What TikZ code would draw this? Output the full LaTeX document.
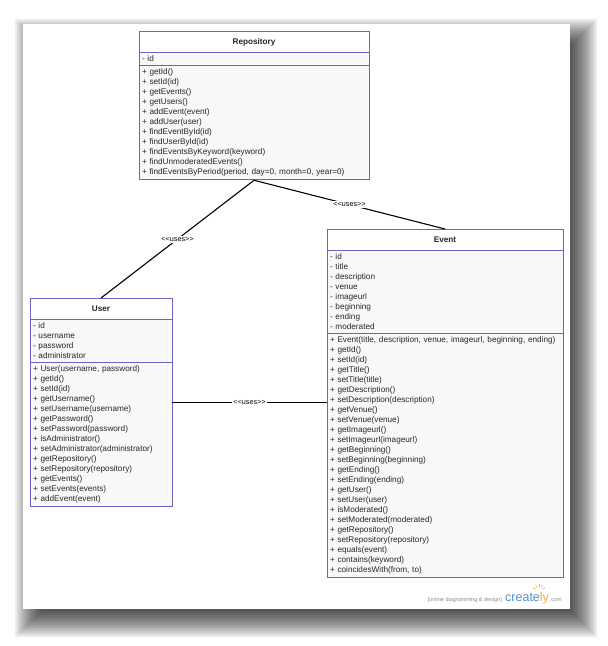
\documentclass[tikz,border=0pt]{standalone}
\usepackage{fontspec}
\setmainfont{Liberation Sans}
\usetikzlibrary{positioning, shapes.multipart}
\definecolor{umlborder}{RGB}{106,100,196}
\definecolor{umlbody}{RGB}{248,248,248}
\definecolor{logoblue}{RGB}{74,144,210}
\definecolor{logoorange}{RGB}{246,172,56}
\tikzset{%
	umlclass/.style={draw=umlborder, line width=0.9pt, rectangle split, rectangle split parts=3,%
		rectangle split part fill={white, umlbody, umlbody}, inner xsep=3pt, inner ysep=3pt,%
		align=left, font=\fontsize{8.2}{10}\selectfont, text=black!85},
	uses/.style={line width=1.1pt},
	stereo/.style={fill=white, inner sep=1.5pt, font=\fontsize{7.2}{8}\selectfont},
	logotext/.style={inner sep=0pt, text=black!45, font=\fontsize{5.5}{6}\selectfont}
}
\newcommand{\classhead}[1]{\makebox[\linewidth]{\rule[-4.5pt]{0pt}{14pt}\textbf{#1}}}

\begin{document}
\begin{tikzpicture}[x=1pt, y=-1pt]
	\useasboundingbox (0,0) rectangle (608,646);
	% paper with its shadow
	\foreach \e in {-15,-13,...,15}
		\fill[black, opacity=0.075] (30-\e,34-\e) rectangle (582+\e,622+\e);
	\fill[white] (23,24) rectangle (570,609);

	\node[umlclass, text width=224pt, anchor=north] (repo) at (254,31) {\classhead{Repository}
		\nodepart{two}- id
		\nodepart{three}+ getId()\\+ setId(id)\\+ getEvents()\\+ getUsers()\\+ addEvent(event)\\%
		+ addUser(user)\\+ findEventById(id)\\+ findUserById(id)\\+ findEventsByKeyword(keyword)\\%
		+ findUnmoderatedEvents()\\+ findEventsByPeriod(period, day=0, month=0, year=0)};
	\node[umlclass, text width=136pt, anchor=north] (user) at (101,298) {\classhead{User}
		\nodepart{two}- id\\- username\\- password\\- administrator
		\nodepart{three}+ User(username, password)\\+ getId()\\+ setId(id)\\+ getUsername()\\%
		+ setUsername(username)\\+ getPassword()\\+ setPassword(password)\\+ isAdministrator()\\%
		+ setAdministrator(administrator)\\+ getRepository()\\+ setRepository(repository)\\%
		+ getEvents()\\+ setEvents(events)\\+ addEvent(event)};
	\node[umlclass, text width=230pt, anchor=north] (event) at (445,229) {\classhead{Event}
		\nodepart{two}- id\\- title\\- description\\- venue\\- imageurl\\- beginning\\- ending\\- moderated
		\nodepart{three}+ Event(title, description, venue, imageurl, beginning, ending)\\+ getId()\\%
		+ setId(id)\\+ getTitle()\\+ setTitle(title)\\+ getDescription()\\+ setDescription(description)\\%
		+ getVenue()\\+ setVenue(venue)\\+ getImageurl()\\+ setImageurl(imageurl)\\+ getBeginning()\\%
		+ setBeginning(beginning)\\+ getEnding()\\+ setEnding(ending)\\+ getUser()\\+ setUser(user)\\%
		+ isModerated()\\+ setModerated(moderated)\\+ getRepository()\\+ setRepository(repository)\\%
		+ equals(event)\\+ contains(keyword)\\+ coincidesWith(from, to)};

	\draw[uses] (repo.south) to node[stereo]{<{}<uses>{}>} (user.north);
	\draw[uses] (repo.south) to node[stereo]{<{}<uses>{}>} (event.north);
	\draw[uses] (user.east) to node[stereo]{<{}<uses>{}>} (user.east -| event.west);

	% creately mark
	\node[logotext, anchor=base east] (logotag) at (502,601) {[online diagramming \& design]};
	\node[inner sep=0pt, base right=3pt of logotag, font=\fontsize{12.5}{13}\selectfont]
		(logo) {\textcolor{logoblue}{create}\textcolor{logoorange}{ly}};
	\node[logotext, base right=0.5pt of logo] (logocom) {.com};
	\foreach \a in {30,60,90,120,150}
		\draw[logoorange, line width=0.6pt] (539,591) ++(-\a:4) -- ++(-\a:3);
\end{tikzpicture}
\end{document}
